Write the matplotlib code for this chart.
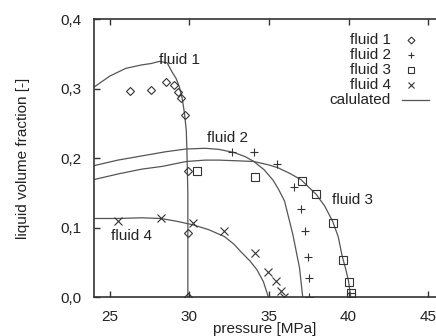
import matplotlib.pyplot as plt
import numpy as np

plt.rcParams['font.family'] = ['Liberation Sans', 'DejaVu Sans']

# measured data (pressure MPa, liquid volume fraction)
f1_p = [26.24, 27.6, 28.55, 29.05, 29.3, 29.46, 29.69, 29.9, 29.9, 29.9]
f1_v = [0.297, 0.298, 0.310, 0.305, 0.295, 0.287, 0.262, 0.182, 0.092, 0.0]

f2_p = [32.68, 34.05, 35.52, 36.58, 36.99, 37.27, 37.44, 37.54, 37.54]
f2_v = [0.208, 0.208, 0.192, 0.159, 0.126, 0.095, 0.057, 0.027, 0.0]

f3_p = [30.5, 34.12, 37.07, 37.98, 39.0, 39.65, 40.02, 40.13, 40.15]
f3_v = [0.182, 0.173, 0.167, 0.148, 0.107, 0.053, 0.021, 0.006, 0.0]

f4_p = [25.54, 28.2, 30.25, 32.16, 34.09, 34.95, 35.42, 35.78, 35.95]
f4_v = [0.110, 0.113, 0.107, 0.095, 0.064, 0.036, 0.023, 0.008, 0.0]

# calculated curves
c1_p = [24.0, 25.0, 26.0, 27.0, 27.6, 28.1, 28.6, 28.9, 29.15, 29.36, 29.55, 29.69, 29.8, 29.84, 29.9, 29.9]
c1_v = [0.302, 0.318, 0.329, 0.334, 0.336, 0.339, 0.337, 0.324, 0.315, 0.303, 0.285, 0.264, 0.24, 0.212, 0.15, 0.0]

c2_p = [24.0, 25.5, 27.0, 28.5, 29.8, 31.0, 31.83, 32.8, 33.5, 34.05, 34.7, 35.26, 35.6, 35.98, 36.5, 36.92, 37.12]
c2_v = [0.189, 0.197, 0.203, 0.209, 0.213, 0.214, 0.2125, 0.208, 0.202, 0.195, 0.183, 0.168, 0.155, 0.138, 0.09, 0.042, 0.0]

c3_p = [24.0, 25.5, 27.0, 28.3, 29.8, 31.0, 31.83, 33.0, 34.05, 35.0, 35.56, 36.3, 37.0, 37.96, 38.5, 39.0, 39.35, 39.6, 39.85, 40.0, 40.14]
c3_v = [0.169, 0.177, 0.184, 0.188, 0.195, 0.197, 0.197, 0.196, 0.195, 0.190, 0.186, 0.178, 0.169, 0.148, 0.131, 0.109, 0.087, 0.059, 0.038, 0.023, 0.0]

c4_p = [24.0, 25.5, 27.0, 28.2, 29.2, 30.2, 31.2, 32.2, 32.8, 33.24, 33.8, 34.25, 34.65, 34.96]
c4_v = [0.113, 0.113, 0.114, 0.113, 0.109, 0.104, 0.097, 0.087, 0.076, 0.065, 0.052, 0.039, 0.022, 0.0]

labels = ['fluid 1', 'fluid 2', 'fluid 3', 'fluid 4', 'calulated']

fig = plt.figure(figsize=(4.36, 3.36), dpi=100)
ax = fig.add_axes([0.2156, 0.116, 0.7844, 0.8274])

lc = '#555555'
mc = '#333333'
for cp, cv in [(c1_p, c1_v), (c2_p, c2_v), (c3_p, c3_v), (c4_p, c4_v)]:
    ax.plot(cp, cv, color=lc, lw=0.9)

ax.plot(f1_p, f1_v, ls='none', marker='D', ms=4, mfc='none', mec=mc, mew=0.8)
ax.plot(f2_p, f2_v, ls='none', marker='+', ms=6, color=mc, mew=0.8)
ax.plot(f3_p, f3_v, ls='none', marker='s', ms=5.5, mfc='none', mec=mc, mew=0.8)
ax.plot(f4_p, f4_v, ls='none', marker='x', ms=5.5, color=mc, mew=0.8)

ax.set_xlim(24.0, 45.5)
ax.set_ylim(0.0, 0.4)
ax.set_xticks([25, 30, 35, 40, 45])
ax.set_yticks([0.0, 0.1, 0.2, 0.3, 0.4])
ax.set_yticklabels(['0,0', '0,1', '0,2', '0,3', '0,4'])
ax.tick_params(direction='in', length=4, width=1, colors='#333333', labelsize=11)
ax.tick_params(axis='x', top=True, pad=9)
ax.tick_params(axis='y', pad=9)
for s in ['left', 'bottom', 'top']:
    ax.spines[s].set_color('#333333')
    ax.spines[s].set_linewidth(1.2)
ax.spines['right'].set_visible(False)
for t in ax.get_xticklabels() + ax.get_yticklabels():
    t.set_color('#222222')

ax.set_xlabel('pressure [MPa]', fontsize=11, labelpad=-1, color='#222222')
ax.set_ylabel('liquid volume fraction [-]', fontsize=11, labelpad=22, color='#222222')

ax.text(29.4, 0.341, 'fluid 1', fontsize=11, ha='center', va='center', color='#222222')
ax.text(32.4, 0.229, 'fluid 2', fontsize=11, ha='center', va='center', color='#222222')
ax.text(40.25, 0.139, 'fluid 3', fontsize=11, ha='center', va='center', color='#222222')
ax.text(26.35, 0.088, 'fluid 4', fontsize=11, ha='center', va='center', color='#222222')

# legend, gnuplot style (text right aligned, key to the right)
tr = ax.transAxes
xt = (391 - 94) / 342
xm = (410.5 - 94) / 342
keys = [dict(marker='D', ms=3.5, mfc='none', mec=mc, mew=0.8),
        dict(marker='+', ms=5, color=mc, mew=0.8),
        dict(marker='s', ms=4.5, mfc='none', mec=mc, mew=0.8),
        dict(marker='x', ms=4.5, color=mc, mew=0.8)]
for i, lab in enumerate(labels):
    yy = (297 - (40 + 15 * i)) / 278
    ax.text(xt, yy, lab, transform=tr, fontsize=11, ha='right', va='center', color='#222222')
    if i < 4:
        ax.plot([xm], [yy], transform=tr, ls='none', clip_on=False, **keys[i])
    else:
        ax.plot([(402 - 94) / 342, (429 - 94) / 342], [yy, yy], transform=tr, color=lc, lw=0.9, clip_on=False)

fig.savefig('out.png', dpi=100)
